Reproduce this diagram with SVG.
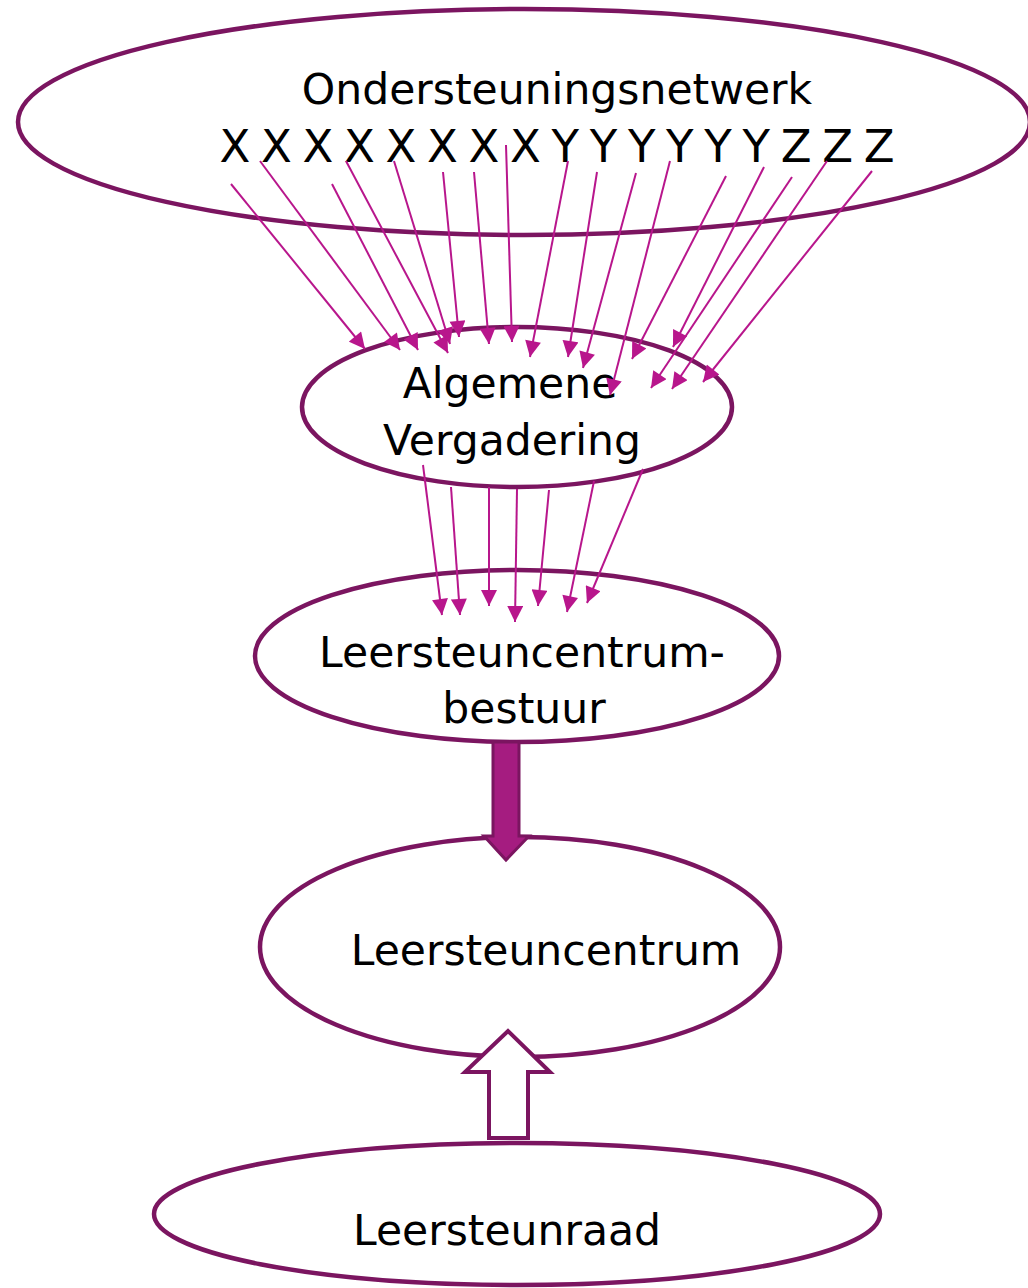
<svg xmlns="http://www.w3.org/2000/svg" width="1028" height="1288" viewBox="0 0 1028 1288">
<defs>
<style>
.node{fill:#fff;stroke:#7B1560;stroke-width:4.5}
.lbl{font-family:"DejaVu Sans","Liberation Sans",sans-serif;font-size:42.5px;fill:#000;text-anchor:middle}
.xyz{font-size:45px}
.c{stroke:#B8168C;stroke-width:2;fill:none;marker-end:url(#ah)}
</style>
<marker id="ah" viewBox="0 0 10 10" refX="10" refY="5" markerWidth="8.5" markerHeight="8" markerUnits="strokeWidth" orient="auto">
<path d="M0,0 L10,5 L0,10 z" fill="#B8168C"/>
</marker>
</defs>
<rect width="1028" height="1288" fill="#fff"/>
<g id="n-ondersteuningsnetwerk">
<ellipse class="node" cx="524" cy="122" rx="506" ry="113"/>
<text class="lbl" x="557" y="104">Ondersteuningsnetwerk</text>
<text class="lbl xyz" x="557" y="162" textLength="675" lengthAdjust="spacing">X X X X X X X X Y Y Y Y Y Y Z Z Z</text>
</g>
<g id="n-algemene-vergadering">
<ellipse class="node" cx="517" cy="407" rx="215" ry="80"/>
<text class="lbl" x="510" y="398">Algemene</text>
<text class="lbl" x="512" y="455">Vergadering</text>
</g>
<g id="n-lsc-bestuur">
<ellipse class="node" cx="517" cy="656" rx="262" ry="86"/>
<text class="lbl" x="522" y="667">Leersteuncentrum-</text>
<text class="lbl" x="524" y="723">bestuur</text>
</g>
<g id="n-leersteuncentrum">
<ellipse class="node" cx="520" cy="947" rx="260" ry="110"/>
<text class="lbl" x="546" y="965">Leersteuncentrum</text>
</g>
<g id="n-leersteunraad">
<ellipse class="node" cx="517" cy="1214" rx="363" ry="71"/>
<text class="lbl" x="507" y="1245">Leersteunraad</text>
</g>
<g id="connectors">
<line class="c" x1="231" y1="184" x2="365" y2="349"/>
<line class="c" x1="260" y1="161" x2="400" y2="350"/>
<line class="c" x1="332" y1="184" x2="418" y2="350"/>
<line class="c" x1="346" y1="161" x2="448" y2="353"/>
<line class="c" x1="394" y1="161" x2="450" y2="344"/>
<line class="c" x1="443" y1="172" x2="459" y2="337"/>
<line class="c" x1="474" y1="172" x2="489" y2="344"/>
<line class="c" x1="506" y1="145" x2="512" y2="342"/>
<line class="c" x1="568" y1="161" x2="530" y2="357"/>
<line class="c" x1="597" y1="172" x2="568" y2="357"/>
<line class="c" x1="636" y1="173" x2="583" y2="368"/>
<line class="c" x1="670" y1="161" x2="610" y2="395"/>
<line class="c" x1="726" y1="176" x2="632" y2="359"/>
<line class="c" x1="764" y1="167" x2="673" y2="347"/>
<line class="c" x1="792" y1="177" x2="651" y2="388"/>
<line class="c" x1="827" y1="161" x2="672" y2="389"/>
<line class="c" x1="872" y1="171" x2="703" y2="382"/>
<line class="c" x1="423" y1="465" x2="442" y2="615"/>
<line class="c" x1="451" y1="487" x2="460" y2="615"/>
<line class="c" x1="489" y1="487" x2="489" y2="606"/>
<line class="c" x1="517" y1="489" x2="515" y2="622"/>
<line class="c" x1="549" y1="490" x2="538" y2="606"/>
<line class="c" x1="594" y1="481" x2="567" y2="612"/>
<line class="c" x1="643" y1="469" x2="587" y2="603"/>
<path id="thick-down" d="M493,742 L519,742 L519,836 L529,836 L506,860 L484,836 L493,836 Z" fill="#A51C80" stroke="#7B1560" stroke-width="3" stroke-linejoin="miter"/>
<path id="hollow-up" d="M489,1138 L489,1072 L465,1072 L508,1031 L550,1072 L528,1072 L528,1138 Z" fill="#fff" stroke="#7B1560" stroke-width="4" stroke-linejoin="miter"/>
</g>
</svg>
